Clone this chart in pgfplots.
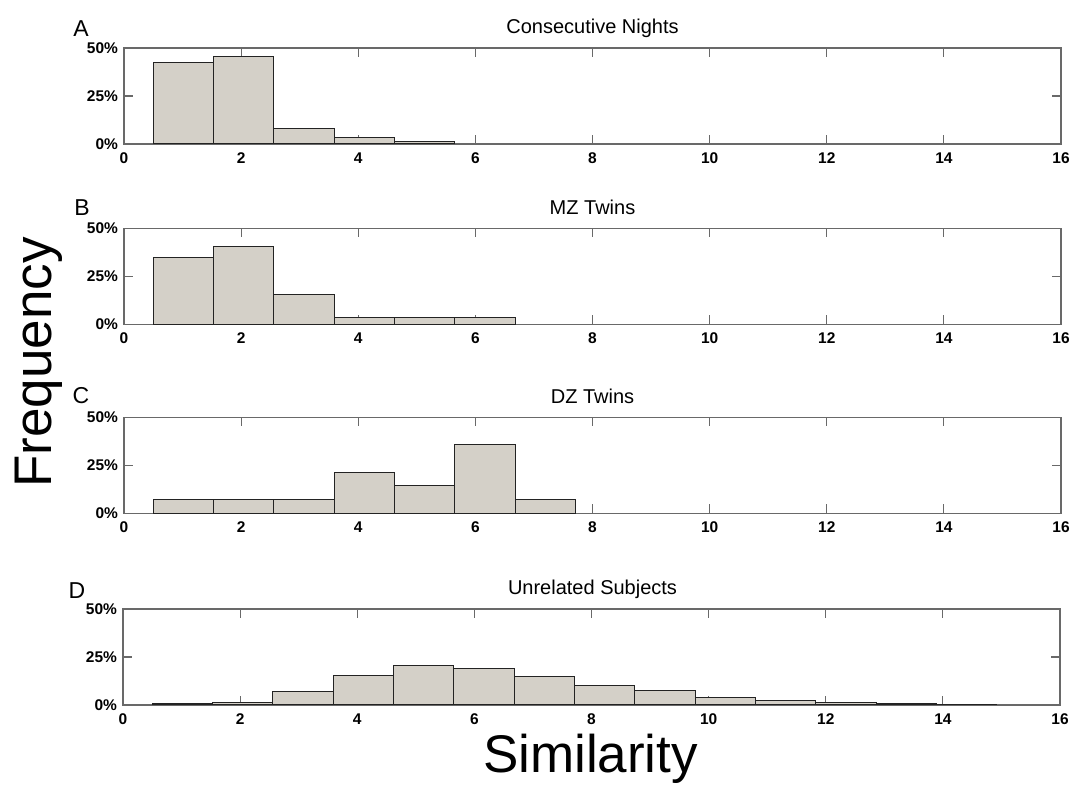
\documentclass[border=0pt]{standalone}
\usepackage{pgfplots}
\pgfplotsset{compat=1.18}
\usepackage{fontspec}
\setmainfont{Liberation Sans}
\definecolor{barfill}{RGB}{212,208,200}
\definecolor{axgray}{RGB}{105,105,105}
\definecolor{baredge}{RGB}{35,35,35}
\pgfplotsset{panel/.style={
  width=937pt, height=96pt, scale only axis,
  xmin=0, xmax=16, ymin=0, ymax=50,
  xtick={0,2,...,16}, ytick={0,25,50},
  yticklabels={0\%,25\%,50\%},
  tick align=inside, major tick length=9pt,
  axis line style={draw=axgray, line width=1.1pt},
  every tick/.style={draw=axgray, line width=1.1pt},
  ticklabel style={font=\fontsize{15.5}{18}\selectfont\bfseries},
  xticklabel style={yshift=-5pt},
  yticklabel style={xshift=-2.5pt},
  /pgf/number format/assume math mode=true,
  anchor=south west,
},
bars/.style={ybar interval, fill=barfill, draw=baredge, line width=1pt}}
\begin{document}
\begin{tikzpicture}[x=1pt,y=1pt]
\path[use as bounding box] (0,0) rectangle (1074,789);

\begin{axis}[panel, at={(124pt,645pt)}]
\addplot[bars] coordinates {(0.5,42.2) (1.53,45.5) (2.56,8.0) (3.59,3.5) (4.62,1.4) (5.65,0)};
\end{axis}

\begin{axis}[panel, at={(124pt,464.7pt)}]
\addplot[bars] coordinates {(0.5,34.8) (1.53,40.7) (2.56,15.6) (3.59,3.6) (4.62,3.6) (5.65,3.6) (6.68,0)};
\end{axis}

\begin{axis}[panel, at={(124pt,275.7pt)}]
\addplot[bars] coordinates {(0.5,7.14) (1.53,7.14) (2.56,7.14) (3.59,21.4) (4.62,14.3) (5.65,35.7) (6.68,7.14) (7.71,0)};
\end{axis}

\begin{axis}[panel, at={(123pt,84pt)}]
\addplot[bars] coordinates {(0.5,0.6) (1.53,1.4) (2.56,6.9) (3.59,15.5) (4.62,20.7) (5.65,19.1) (6.68,14.9) (7.71,10.3) (8.74,7.3) (9.77,4.0) (10.8,2.4) (11.83,1.4) (12.86,0.7) (13.89,0.5) (14.92,0)};
\end{axis}

\begin{scope}[every node/.style={anchor=base, inner sep=0pt, font=\fontsize{20}{24}\selectfont}]
\node at (592.5,755.3) {Consecutive Nights};
\node at (592.5,574.7) {MZ Twins};
\node at (592.5,385.7) {DZ Twins};
\node at (592.5,194) {Unrelated Subjects};
\end{scope}
\begin{scope}[every node/.style={anchor=base, inner sep=0pt, font=\fontsize{23}{27}\selectfont}]
\node at (81,752.3) {A};
\node at (82,573) {B};
\node at (81,385) {C};
\node at (77,190.7) {D};
\end{scope}
\node[rotate=90, anchor=base, inner sep=0pt, font=\fontsize{53}{60}\selectfont] at (51,426.5) {Frequency};
\node[anchor=base, inner sep=0pt, font=\fontsize{53}{60}\selectfont] at (590.5,16.3) {Similarity};
\end{tikzpicture}
\end{document}
